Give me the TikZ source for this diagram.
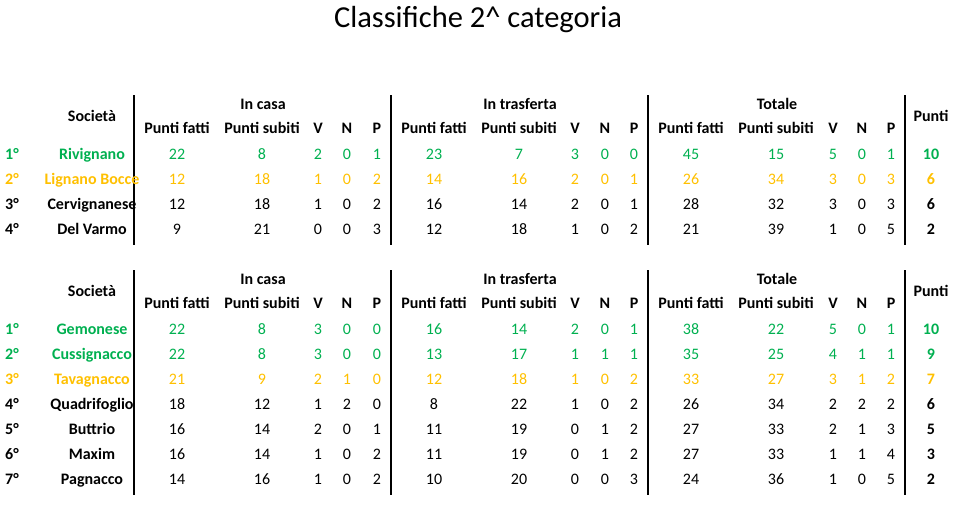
\documentclass[tikz,border=0pt]{standalone}
\usepackage{fontspec}
\setmainfont{Carlito}
\definecolor{vgreen}{HTML}{00B050}
\definecolor{vorange}{HTML}{FFC000}
\begin{document}
\begin{tikzpicture}[x=1pt,y=-1pt]
	\tikzset{cell/.style={inner sep=0, anchor=mid, font=\fontsize{16}{18}\selectfont},
		head/.style={cell, font=\fontsize{16}{18}\selectfont\bfseries},
		sep/.style={line width=1.6pt}}
	\useasboundingbox (0,0) rectangle (961,507);
	\node[cell, font=\fontsize{30.5}{34}\selectfont] (title) at (478,25) {Classifiche 2\^{} categoria};

	% column centres
	\def\cols{177/Punti fatti,262/Punti subiti,318/V,347/N,377/P,434/Punti fatti,519/Punti subiti,575/V,605/N,634/P,691/Punti fatti,776/Punti subiti,833/V,862/N,891/P}

	% headers for both tables
	\foreach \y in {0,175} {
		\node[head] at (92,119+\y) {Società};
		\node[head] at (263,107+\y) {In casa};
		\node[head] at (520,107+\y) {In trasferta};
		\node[head] at (777,107+\y) {Totale};
		\node[head] at (931,119+\y) {Punti};
		\foreach \x/\t in \cols
			\node[head] at (\x,131+\y) {\t};
		\foreach \x in {134,391,648,905}
			\draw[sep] (\x,95+\y) -- (\x,245+\y);
	}
	\draw[sep] (134,420) -- (134,495) (391,420) -- (391,495) (648,420) -- (648,495) (905,420) -- (905,495);

	% first table
	\foreach \r/\c/\n/\vals/\p [count=\i] in {
		1/vgreen/Rivignano/{22,8,2,0,1,23,7,3,0,0,45,15,5,0,1}/10,
		2/vorange/Lignano Bocce/{12,18,1,0,2,14,16,2,0,1,26,34,3,0,3}/6,
		3/black/Cervignanese/{12,18,1,0,2,16,14,2,0,1,28,32,3,0,3}/6,
		4/black/Del Varmo/{9,21,0,0,3,12,18,1,0,2,21,39,1,0,5}/2} {
		\pgfmathsetmacro\yy{132+25*\i}
		\node[head, text=\c] at (12,\yy) {\r°};
		\node[head, text=\c] at (92,\yy) {\n};
		\foreach \v [count=\k] in \vals {
			\pgfmathsetmacro\xx{{177,262,318,347,377,434,519,575,605,634,691,776,833,862,891}[\k-1]}
			\node[cell, text=\c] at (\xx,\yy) {\v};
		}
		\node[head, text=\c] at (931,\yy) {\p};
	}

	% second table
	\foreach \r/\c/\n/\vals/\p [count=\i] in {
		1/vgreen/Gemonese/{22,8,3,0,0,16,14,2,0,1,38,22,5,0,1}/10,
		2/vgreen/Cussignacco/{22,8,3,0,0,13,17,1,1,1,35,25,4,1,1}/9,
		3/vorange/Tavagnacco/{21,9,2,1,0,12,18,1,0,2,33,27,3,1,2}/7,
		4/black/Quadrifoglio/{18,12,1,2,0,8,22,1,0,2,26,34,2,2,2}/6,
		5/black/Buttrio/{16,14,2,0,1,11,19,0,1,2,27,33,2,1,3}/5,
		6/black/Maxim/{16,14,1,0,2,11,19,0,1,2,27,33,1,1,4}/3,
		7/black/Pagnacco/{14,16,1,0,2,10,20,0,0,3,24,36,1,0,5}/2} {
		\pgfmathsetmacro\yy{307+25*\i}
		\node[head, text=\c] at (12,\yy) {\r°};
		\node[head, text=\c] at (92,\yy) {\n};
		\foreach \v [count=\k] in \vals {
			\pgfmathsetmacro\xx{{177,262,318,347,377,434,519,575,605,634,691,776,833,862,891}[\k-1]}
			\node[cell, text=\c] at (\xx,\yy) {\v};
		}
		\node[head, text=\c] at (931,\yy) {\p};
	}
\end{tikzpicture}
\end{document}
